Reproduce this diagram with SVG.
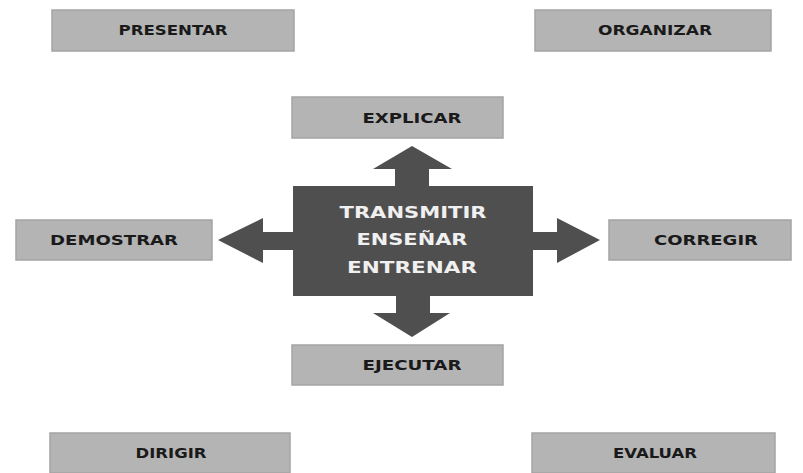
<svg xmlns="http://www.w3.org/2000/svg" width="803" height="473" viewBox="0 0 803 473">
<style>
.box{fill:#b4b4b4;stroke:#a4a4a4;stroke-width:1.5}
.lbl{font-family:"DejaVu Sans","Liberation Sans",sans-serif;font-weight:bold;font-size:14px;fill:#1a1a1a;text-anchor:middle}
.ctr{fill:#4f4f4f}
.ctxt{font-family:"DejaVu Sans","Liberation Sans",sans-serif;font-weight:bold;font-size:15px;fill:#f0f0f0;text-anchor:middle}
.arr{fill:#4f4f4f}
</style>
<rect width="803" height="473" fill="#ffffff"/>
<g id="presentar"><rect class="box" x="52" y="10" width="242" height="41"/><text class="lbl" x="173" y="35" textLength="109" lengthAdjust="spacingAndGlyphs">PRESENTAR</text></g>
<g id="organizar"><rect class="box" x="535" y="10" width="236" height="41"/><text class="lbl" x="655" y="35" textLength="114" lengthAdjust="spacingAndGlyphs">ORGANIZAR</text></g>
<g id="explicar"><rect class="box" x="292" y="97" width="211" height="41"/><text class="lbl" x="412" y="123" textLength="99" lengthAdjust="spacingAndGlyphs">EXPLICAR</text></g>
<g id="demostrar"><rect class="box" x="16" y="220" width="196" height="40"/><text class="lbl" x="114" y="245" textLength="128" lengthAdjust="spacingAndGlyphs">DEMOSTRAR</text></g>
<g id="corregir"><rect class="box" x="609" y="220" width="182" height="40"/><text class="lbl" x="706" y="245" textLength="104" lengthAdjust="spacingAndGlyphs">CORREGIR</text></g>
<g id="ejecutar"><rect class="box" x="292" y="345" width="211" height="40"/><text class="lbl" x="412" y="370" textLength="99" lengthAdjust="spacingAndGlyphs">EJECUTAR</text></g>
<g id="dirigir"><rect class="box" x="50" y="433" width="240" height="40"/><text class="lbl" x="171" y="458" textLength="71" lengthAdjust="spacingAndGlyphs">DIRIGIR</text></g>
<g id="evaluar"><rect class="box" x="532" y="433" width="243" height="40"/><text class="lbl" x="655" y="458" textLength="84" lengthAdjust="spacingAndGlyphs">EVALUAR</text></g>
<g id="connectors">
<polygon class="arr" points="412,146 452,169 429,169 429,187 395,187 395,169 373,169"/>
<polygon class="arr" points="412,337 450,313 430,313 430,295 396,295 396,313 373,313"/>
<polygon class="arr" points="218,240 263,218 263,232 294,232 294,250 263,250 263,263"/>
<polygon class="arr" points="600,240 557,218 557,232 532,232 532,250 557,250 557,263"/>
</g>
<g id="center"><rect class="ctr" x="293" y="186" width="240" height="110"/>
<text class="ctxt" x="413" y="218" textLength="147" lengthAdjust="spacingAndGlyphs">TRANSMITIR</text>
<text class="ctxt" x="412" y="245" textLength="111" lengthAdjust="spacingAndGlyphs">ENSEÑAR</text>
<text class="ctxt" x="412" y="273" textLength="130" lengthAdjust="spacingAndGlyphs">ENTRENAR</text></g>
</svg>
